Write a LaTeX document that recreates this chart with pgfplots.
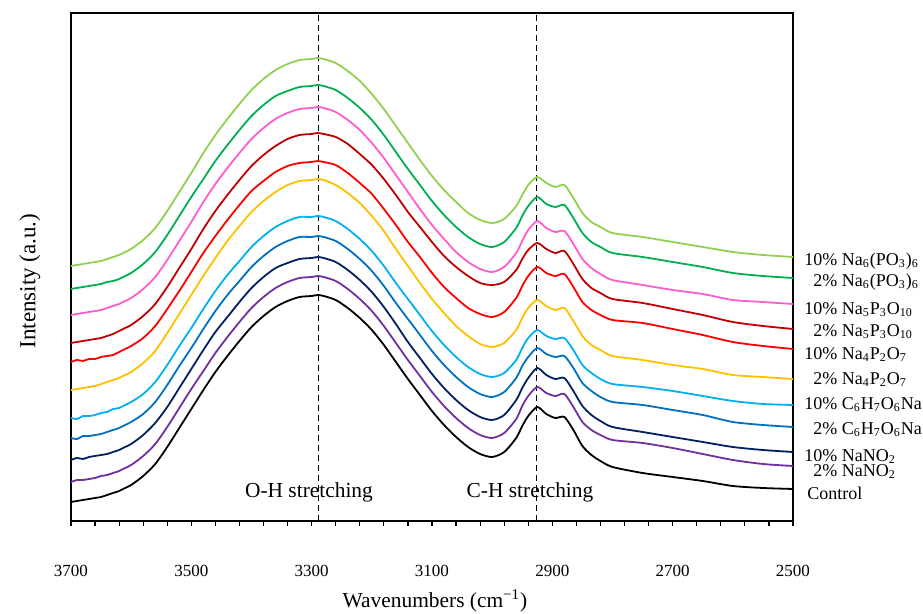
\documentclass[border=0pt]{standalone}
\usepackage{pgfplots}
\usepackage{pgfplotstable}
\usepackage{fontspec}
\setmainfont{Liberation Serif}
\pgfplotsset{compat=1.18}

\definecolor{cCtrl}{RGB}{0,0,0}
\definecolor{cNOa}{RGB}{112,48,160}
\definecolor{cNOb}{RGB}{0,32,96}
\definecolor{cVCa}{RGB}{0,112,192}
\definecolor{cVCb}{RGB}{0,176,240}
\definecolor{cPPa}{RGB}{255,192,0}
\definecolor{cPPb}{RGB}{255,0,0}
\definecolor{cTPa}{RGB}{192,0,0}
\definecolor{cTPb}{RGB}{255,92,204}
\definecolor{cHMa}{RGB}{0,176,80}
\definecolor{cHMb}{RGB}{146,208,80}

% FTIR spectra, stacked (arbitrary units)
\pgfplotstableread{
wn   ctrl nitA nitB ascA ascB pyrA pyrB tpA  tpB  hmA  hmB
3700 0.19 0.39 0.61 0.83 1.03 1.31 1.59 1.78 2.06 2.32 2.55
3690 0.20 0.41 0.63 0.82 1.02 1.32 1.61 1.79 2.07 2.33 2.56
3680 0.21 0.41 0.62 0.85 1.05 1.33 1.60 1.80 2.08 2.34 2.57
3670 0.22 0.42 0.64 0.85 1.05 1.34 1.62 1.81 2.09 2.35 2.58
3660 0.23 0.43 0.65 0.86 1.06 1.35 1.62 1.82 2.10 2.36 2.59
3650 0.24 0.45 0.66 0.87 1.08 1.37 1.64 1.83 2.11 2.37 2.60
3640 0.26 0.46 0.67 0.89 1.09 1.39 1.65 1.85 2.13 2.39 2.62
3630 0.28 0.48 0.69 0.91 1.12 1.41 1.66 1.87 2.15 2.40 2.64
3620 0.30 0.50 0.71 0.93 1.13 1.43 1.69 1.90 2.17 2.42 2.66
3610 0.33 0.53 0.74 0.96 1.16 1.46 1.72 1.93 2.20 2.45 2.69
3600 0.36 0.56 0.77 0.99 1.19 1.49 1.75 1.96 2.23 2.48 2.72
3580 0.45 0.65 0.86 1.07 1.27 1.58 1.83 2.05 2.32 2.57 2.81
3560 0.57 0.77 0.98 1.19 1.39 1.70 1.95 2.17 2.44 2.69 2.93
3540 0.74 0.94 1.14 1.36 1.56 1.88 2.12 2.34 2.61 2.86 3.10
3520 0.93 1.13 1.33 1.55 1.75 2.07 2.30 2.53 2.80 3.05 3.29
3500 1.12 1.32 1.52 1.73 1.93 2.26 2.49 2.72 2.99 3.24 3.48
3480 1.31 1.50 1.71 1.92 2.12 2.45 2.68 2.92 3.19 3.42 3.68
3460 1.49 1.68 1.89 2.10 2.30 2.63 2.85 3.10 3.37 3.60 3.86
3440 1.65 1.84 2.04 2.26 2.46 2.80 3.01 3.26 3.53 3.76 4.02
3420 1.80 1.99 2.19 2.40 2.60 2.95 3.16 3.41 3.68 3.91 4.17
3400 1.94 2.13 2.33 2.54 2.74 3.09 3.30 3.55 3.82 4.05 4.31
3380 2.05 2.24 2.44 2.65 2.85 3.20 3.40 3.66 3.93 4.16 4.42
3360 2.14 2.33 2.53 2.74 2.94 3.29 3.49 3.75 4.02 4.25 4.51
3340 2.20 2.39 2.58 2.80 3.00 3.36 3.55 3.82 4.08 4.30 4.57
3320 2.24 2.43 2.62 2.84 3.04 3.40 3.58 3.86 4.12 4.34 4.61
3300 2.25 2.44 2.63 2.84 3.04 3.41 3.59 3.87 4.13 4.35 4.62
3290 2.26 2.45 2.64 2.85 3.05 3.42 3.60 3.88 4.14 4.36 4.63
3280 2.25 2.44 2.63 2.84 3.04 3.41 3.59 3.87 4.13 4.35 4.62
3260 2.21 2.40 2.59 2.80 3.00 3.36 3.56 3.84 4.09 4.31 4.58
3240 2.13 2.32 2.51 2.72 2.92 3.28 3.48 3.77 4.01 4.23 4.50
3220 2.03 2.22 2.41 2.62 2.82 3.18 3.38 3.67 3.91 4.13 4.40
3200 1.91 2.10 2.29 2.50 2.70 3.05 3.27 3.56 3.78 4.01 4.27
3180 1.76 1.95 2.14 2.35 2.55 2.90 3.12 3.42 3.63 3.86 4.12
3160 1.59 1.78 1.97 2.18 2.38 2.72 2.96 3.26 3.46 3.69 3.95
3140 1.42 1.61 1.79 2.02 2.22 2.55 2.79 3.09 3.29 3.52 3.78
3120 1.26 1.45 1.63 1.86 2.06 2.38 2.64 2.94 3.12 3.36 3.61
3100 1.10 1.29 1.47 1.70 1.90 2.22 2.48 2.79 2.96 3.20 3.45
3080 0.96 1.15 1.33 1.56 1.76 2.08 2.34 2.65 2.82 3.06 3.31
3060 0.84 1.03 1.21 1.44 1.64 1.95 2.23 2.54 2.69 2.94 3.19
3040 0.74 0.93 1.11 1.34 1.54 1.85 2.13 2.45 2.59 2.84 3.08
3020 0.67 0.86 1.04 1.27 1.47 1.77 2.07 2.38 2.52 2.77 3.01
3000 0.64 0.83 1.01 1.24 1.44 1.74 2.04 2.36 2.49 2.74 2.98
2980 0.69 0.88 1.06 1.29 1.48 1.78 2.09 2.39 2.54 2.79 3.02
2960 0.83 1.02 1.21 1.43 1.61 1.91 2.23 2.51 2.68 2.93 3.15
2950 0.95 1.15 1.33 1.55 1.73 2.03 2.35 2.62 2.80 3.05 3.26
2940 1.05 1.25 1.43 1.64 1.83 2.13 2.45 2.71 2.91 3.15 3.36
2925 1.14 1.34 1.53 1.73 1.91 2.21 2.54 2.78 3.00 3.24 3.44
2910 1.07 1.28 1.46 1.67 1.85 2.15 2.48 2.72 2.93 3.17 3.38
2895 1.03 1.25 1.42 1.64 1.82 2.11 2.45 2.68 2.89 3.14 3.34
2880 1.04 1.27 1.43 1.65 1.83 2.13 2.47 2.70 2.90 3.16 3.36
2865 0.91 1.14 1.30 1.53 1.71 2.00 2.34 2.57 2.77 3.03 3.23
2850 0.75 0.99 1.15 1.38 1.56 1.85 2.19 2.42 2.62 2.88 3.08
2835 0.66 0.91 1.06 1.30 1.48 1.76 2.11 2.33 2.53 2.79 2.99
2820 0.60 0.86 1.00 1.24 1.42 1.71 2.06 2.28 2.47 2.74 2.94
2800 0.54 0.81 0.94 1.19 1.37 1.65 2.01 2.22 2.41 2.68 2.88
2750 0.48 0.78 0.89 1.16 1.34 1.61 1.98 2.18 2.36 2.64 2.84
2700 0.44 0.73 0.84 1.11 1.30 1.56 1.92 2.12 2.31 2.59 2.79
2650 0.40 0.67 0.79 1.06 1.25 1.52 1.86 2.06 2.27 2.54 2.74
2600 0.35 0.61 0.74 0.99 1.20 1.46 1.79 1.99 2.21 2.48 2.69
2550 0.33 0.57 0.71 0.96 1.17 1.44 1.75 1.95 2.19 2.45 2.66
2500 0.32 0.55 0.69 0.94 1.16 1.42 1.72 1.92 2.17 2.43 2.64
}\spectra

\begin{document}
\begin{tikzpicture}
\begin{axis}[
  at={(0,0)}, anchor=south west,
  scale only axis, width=361pt, height=254pt,
  x dir=reverse, xmin=2500, xmax=3700, ymin=0, ymax=5.08,
  axis line style={line width=0.8pt},
  xtick={2500,2700,...,3700}, minor x tick num=4,
  ytick=\empty, xtick pos=bottom,
  tick align=outside, major tick length=2.6pt, minor tick length=2.6pt,
  every tick/.style={black, line width=0.6pt},
  xticklabel style={yshift=-16pt, font=\fontsize{8.5}{10}\selectfont},
  /pgf/number format/1000 sep={},
  /pgf/number format/assume math mode=true,
  clip=false,
  every axis plot/.append style={line width=0.9pt, line join=round, smooth, tension=0.45},
]
\draw[densely dashed, line width=0.5pt] (axis cs:3289,0) -- (axis cs:3289,5.08);
\draw[densely dashed, line width=0.5pt] (axis cs:2926,0) -- (axis cs:2926,5.08);
\addplot[cCtrl] table[x=wn, y=ctrl] {\spectra};
\addplot[cNOa]  table[x=wn, y=nitA] {\spectra};
\addplot[cNOb]  table[x=wn, y=nitB] {\spectra};
\addplot[cVCa]  table[x=wn, y=ascA] {\spectra};
\addplot[cVCb]  table[x=wn, y=ascB] {\spectra};
\addplot[cPPa]  table[x=wn, y=pyrA] {\spectra};
\addplot[cPPb]  table[x=wn, y=pyrB] {\spectra};
\addplot[cTPa]  table[x=wn, y=tpA]  {\spectra};
\addplot[cTPb]  table[x=wn, y=tpB]  {\spectra};
\addplot[cHMa]  table[x=wn, y=hmA]  {\spectra};
\addplot[cHMb]  table[x=wn, y=hmB]  {\spectra};
\end{axis}

\begin{scope}[every node/.style={inner sep=0pt, font=\fontsize{10.7}{12}\selectfont}]
\node at (119pt,14.5pt) {O-H stretching};
\node at (229.5pt,14.5pt) {C-H stretching};
\node at (182pt,-40pt) {Wavenumbers (cm\textsuperscript{−1})};
\node[rotate=90] at (-20.5pt,120pt) {\fontsize{11.5}{13}\selectfont Intensity (a.u.)};
\end{scope}

\begin{scope}[every node/.style={inner sep=0pt, anchor=base west, font=\fontsize{9}{11}\selectfont}]
\node at (366.5pt,127.5pt) {10\% Na\textsubscript{6}(PO\textsubscript{3})\textsubscript{6}};
\node at (366.5pt,117pt)   {\phantom{1}2\% Na\textsubscript{6}(PO\textsubscript{3})\textsubscript{6}};
\node at (366.5pt,103pt)   {10\% Na\textsubscript{5}P\textsubscript{3}O\textsubscript{10}};
\node at (366.5pt,92pt)    {\phantom{1}2\% Na\textsubscript{5}P\textsubscript{3}O\textsubscript{10}};
\node at (366.5pt,80.5pt)  {10\% Na\textsubscript{4}P\textsubscript{2}O\textsubscript{7}};
\node at (366.5pt,68pt)    {\phantom{1}2\% Na\textsubscript{4}P\textsubscript{2}O\textsubscript{7}};
\node at (366.5pt,55.5pt)  {10\% C\textsubscript{6}H\textsubscript{7}O\textsubscript{6}Na};
\node at (366.5pt,43pt)    {\phantom{1}2\% C\textsubscript{6}H\textsubscript{7}O\textsubscript{6}Na};
\node at (366.5pt,29.5pt)  {10\% NaNO\textsubscript{2}};
\node at (366.5pt,22pt)    {\phantom{1}2\% NaNO\textsubscript{2}};
\node at (368pt,10.5pt)    {Control};
\end{scope}

\pgfresetboundingbox
\path (-35.5pt,-46.5pt) rectangle (426pt,260.5pt);
\end{tikzpicture}
\end{document}
